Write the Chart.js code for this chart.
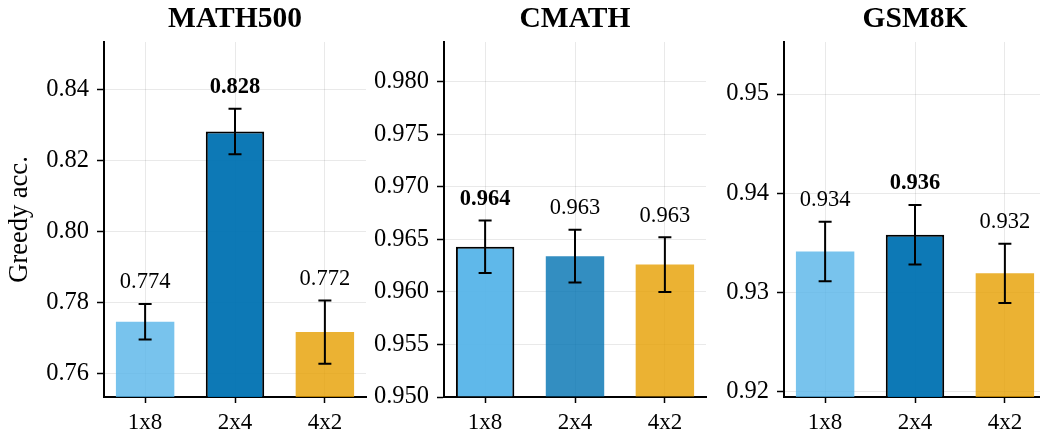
<!DOCTYPE html>
<html><head><meta charset="utf-8">
<script src="https://cdn.jsdelivr.net/npm/chart.js@4.4.0/dist/chart.umd.min.js"></script>
<style>
html,body{margin:0;padding:0;background:#fff;overflow:hidden;}
#wrap{position:relative;width:1040px;height:433px;overflow:hidden;background:#fff;}
canvas{position:absolute;top:0;}
</style></head><body>
<div id="wrap">
<canvas id="c0" width="380" height="433" style="left:0px"></canvas>
<canvas id="c1" width="380" height="433" style="left:340px"></canvas>
<canvas id="c2" width="380" height="433" style="left:680px"></canvas>
</div>
<script>
// ---- data ----
const categories = ['1x8', '2x4', '4x2'];
const panelTitles = ['MATH500', 'CMATH', 'GSM8K'];

const math500Values = [0.7745, 0.8281, 0.7716];
const math500Errors = [0.0050, 0.0064, 0.0089];
const math500Labels = ['0.774', '0.828', '0.772'];
const math500Ticks = [0.76, 0.78, 0.80, 0.82, 0.84];
const math500Range = [0.7533, 0.8533];

const cmathValues = [0.9643, 0.9634, 0.9626];
const cmathErrors = [0.0025, 0.0025, 0.0026];
const cmathLabels = ['0.964', '0.963', '0.963'];
const cmathTicks = [0.950, 0.955, 0.960, 0.965, 0.970, 0.975, 0.980];
const cmathRange = [0.9500, 0.98377];

const gsm8kValues = [0.9341, 0.9358, 0.9319];
const gsm8kErrors = [0.0030, 0.0030, 0.0030];
const gsm8kLabels = ['0.934', '0.936', '0.932'];
const gsm8kTicks = [0.92, 0.93, 0.94, 0.95];
const gsm8kRange = [0.91942, 0.95525];

const tickDecimals = [2, 3, 2];
const yAxisTitle = 'Greedy acc.';

// ---- style ----
const baseColors = [[86, 180, 233], [0, 114, 178], [230, 159, 0]];
const FONT = '"Liberation Serif", "Times New Roman", serif';
const GRID = 'rgba(0,0,0,0.085)';

const panels = [
  {title: panelTitles[0], values: math500Values, errors: math500Errors, labels: math500Labels, ticks: math500Ticks, range: math500Range, dec: tickDecimals[0]},
  {title: panelTitles[1], values: cmathValues, errors: cmathErrors, labels: cmathLabels, ticks: cmathTicks, range: cmathRange, dec: tickDecimals[1]},
  {title: panelTitles[2], values: gsm8kValues, errors: gsm8kErrors, labels: gsm8kLabels, ticks: gsm8kTicks, range: gsm8kRange, dec: tickDecimals[2]}
];

const overlay = {
  id: 'overlay',
  afterDatasetsDraw(chart, args, opts) {
    const p = opts.panel;
    const ctx = chart.ctx, xs = chart.scales.x, ys = chart.scales.y, ca = chart.chartArea;
    const best = p.values.indexOf(Math.max(...p.values));
    ctx.save();
    ctx.strokeStyle = '#000';
    ctx.fillStyle = '#000';
    ctx.lineWidth = 2;
    p.values.forEach((v, i) => {
      const px = xs.getPixelForValue(i);
      const top = ys.getPixelForValue(v + p.errors[i]);
      const bot = ys.getPixelForValue(v - p.errors[i]);
      ctx.beginPath();
      ctx.moveTo(px, top); ctx.lineTo(px, bot);
      ctx.moveTo(px - 6.5, top); ctx.lineTo(px + 6.5, top);
      ctx.moveTo(px - 6.5, bot); ctx.lineTo(px + 6.5, bot);
      ctx.stroke();
      ctx.textAlign = 'center';
      ctx.textBaseline = 'alphabetic';
      ctx.font = (i === best ? 'bold ' : '') + '22.5px ' + FONT;
      ctx.fillText(p.labels[i], px, top - 15.5);
    });
    ctx.font = 'bold 29.5px ' + FONT;
    ctx.textAlign = 'center';
    ctx.textBaseline = 'alphabetic';
    ctx.fillText(p.title, (ca.left + ca.right) / 2, 26.5);
    ctx.restore();
  }
};

panels.forEach((p, k) => {
  const best = p.values.indexOf(Math.max(...p.values));
  const bg = p.values.map((v, i) => {
    const c = baseColors[i];
    return `rgba(${c[0]},${c[1]},${c[2]},${i === best ? 0.95 : 0.8})`;
  });
  new Chart(document.getElementById('c' + k), {
    type: 'bar',
    data: {
      datasets: [{
        data: p.values.map((v, i) => ({x: i, y: v})),
        backgroundColor: bg,
        borderColor: '#000',
        borderWidth: p.values.map((v, i) => i === best ? 2 : 0),
        borderSkipped: 'start',
        base: p.range[0],
        barPercentage: 0.65,
        categoryPercentage: 1.0
      }]
    },
    options: {
      responsive: false,
      animation: false,
      devicePixelRatio: 1,
      layout: {padding: {top: 42, right: 14, bottom: 0, left: 0}},
      plugins: {
        legend: {display: false},
        tooltip: {enabled: false},
        title: {display: false},
        overlay: {panel: p}
      },
      scales: {
        x: {
          type: 'linear',
          offset: false,
          min: -0.4575,
          max: 2.4575,
          afterBuildTicks: s => { s.ticks = categories.map((c, i) => ({value: i})); },
          afterFit: s => { s.height = 36; },
          ticks: {
            callback: v => categories[v],
            color: '#000',
            font: {family: FONT, size: 23},
            padding: 6,
            maxRotation: 0
          },
          grid: {offset: false, color: GRID, lineWidth: 1, tickColor: '#000', tickLength: 6, tickWidth: 1.5},
          border: {display: true, color: '#000', width: 2}
        },
        y: {
          type: 'linear',
          min: p.range[0],
          max: p.range[1],
          afterBuildTicks: s => { s.ticks = p.ticks.map(v => ({value: v})); },
          afterFit: s => { s.width = 104; },
          ticks: {
            callback: v => Number(v).toFixed(p.dec),
            color: '#000',
            font: {family: FONT, size: 24.5},
            padding: 8
          },
          grid: {color: GRID, lineWidth: 1, tickColor: '#000', tickLength: 7, tickWidth: 1.5},
          border: {display: true, color: '#000', width: 2},
          title: {
            display: k === 0,
            text: yAxisTitle,
            color: '#000',
            font: {family: FONT, size: 26.5},
            padding: {top: 4, bottom: 0}
          }
        }
      }
    },
    plugins: [overlay]
  });
});
</script>
</body></html>
